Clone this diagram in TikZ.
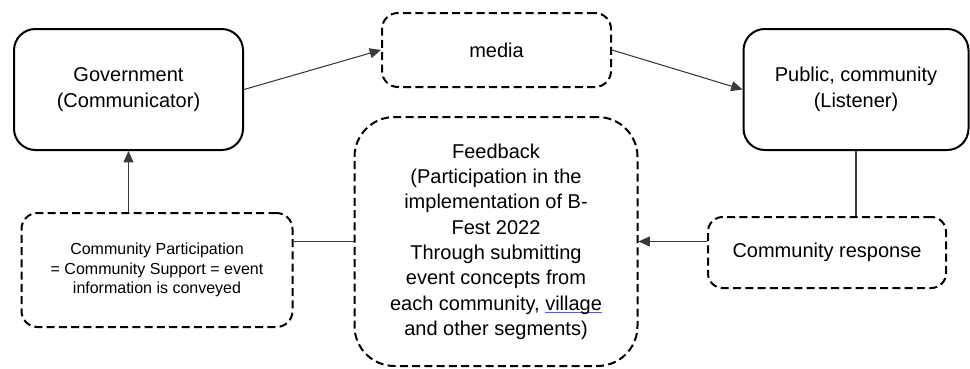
\documentclass[tikz,border=0pt]{standalone}
\usepackage{fontspec}
\setmainfont{Liberation Sans}
\usepackage{xcolor}
\usetikzlibrary{positioning,arrows.meta}
\definecolor{connGray}{HTML}{3A3A3A}
\definecolor{ulBlue}{HTML}{5A5AD8}
\newcommand{\spellul}[1]{{\setbox0\hbox{#1}\rlap{\color{ulBlue}\rule[-2.2pt]{\wd0}{0.7pt}}\box0}}

\begin{document}
\begin{tikzpicture}[
    x=0.75pt, y=-0.75pt,
    every node/.style={align=center, inner sep=0pt, font={\fontsize{15}{19.5}\selectfont}},
    solidbox/.style={draw, line width=1.5pt, rounded corners=16pt},
    dashbox/.style={draw, line width=1.5pt, dash pattern=on 6pt off 3.2pt, rounded corners=12pt},
    conn/.style={draw=connGray, line width=0.8pt},
    tip/.style={-{Triangle[length=8.5pt,width=7.5pt]}}
]
    \useasboundingbox (0,0) rectangle (970,368);

    \node[solidbox, minimum width=171.75pt, minimum height=90.75pt] (gov) at (128.5,89.5)
        {Government\\(Communicator)};
    \node[dashbox, minimum width=171.75pt, minimum height=55.5pt] (media) at (496.5,50)
        {media};
    \node[solidbox, minimum width=168.75pt, minimum height=90.75pt] (pub) at (856,89.5)
        {Public, community\\(Listener)};
    \node[dashbox, minimum width=203.25pt, minimum height=85.5pt,
          font={\fontsize{12}{14.4}\selectfont}] (part) at (157,270)
        {Community Participation\\= Community Support = event\\information is conveyed};
    \node[dashbox, rounded corners=30pt, minimum width=212.25pt, minimum height=186.75pt,
          font={\fontsize{15}{19}\selectfont}] (fb) at (496,241.5)
        {Feedback\\(Participation in the\\implementation of B-\\Fest 2022\\Through submitting\\event concepts from\\each community, \spellul{village}\\and other segments)};
    \node[dashbox, rounded corners=11pt, minimum width=178.5pt, minimum height=53.25pt] (resp) at (827,252.5)
        {Community response};

    \draw[conn, tip] (gov.east) -- (media.west);
    \draw[conn, tip] (media.east) -- (pub.west);
    \draw[conn] (pub.south) -- (pub.south |- resp.north);
    \draw[conn, tip] (resp.west |- fb.east) -- (fb.east);
    \draw[conn] (fb.west) -- (fb.west -| part.east);
    \draw[conn, tip] (gov.south |- part.north) -- (gov.south);
\end{tikzpicture}
\end{document}
